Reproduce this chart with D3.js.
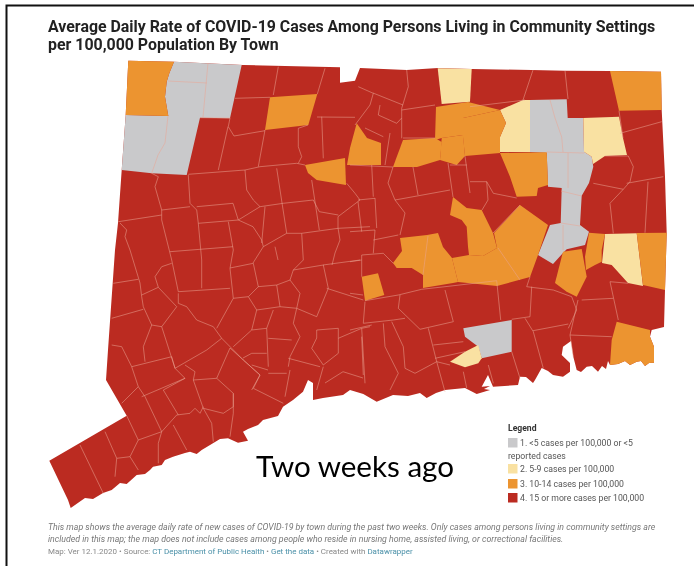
<!DOCTYPE html>
<html>
<head>
<meta charset="utf-8">
<script src="https://cdn.jsdelivr.net/npm/d3@7"></script>
<style>
  html, body { margin: 0; padding: 0; background: #fff; }
  svg { display: block; filter: blur(0.35px); }
  text { font-family: Roboto, sans-serif; }
</style>
</head>
<body>
<div id="map"></div>
<script>
// dim
const width = 694, height = 566;

// text
const titleLines = ["Average Daily Rate of COVID-19 Cases Among Persons Living in Community Settings", "per 100,000 Population By Town"];
const noteLines = [
  "This map shows the average daily rate of new cases of COVID-19 by town during the past two weeks. Only cases among persons living in community settings are",
  "included in this map; the map does not include cases among people who reside in nursing home, assisted living, or correctional facilities."
];
const legendTitle = "Legend";
const legendLabels = [["1. <5 cases per 100,000 or <5", "reported cases"], ["2. 5-9 cases per 100,000"], ["3. 10-14 cases per 100,000"], ["4. 15 or more cases per 100,000"]];
const classColors = ["#c9c9cb", "#f9e1a2", "#ec9430", "#bb2b21"];

// state outline, map units
const stateOutline = [[128.3,60.7],[174,61.7],[243,65],[340,67.3],[340,82.7],[355,80.7],[360,68],[406.7,70],[438,68],[471.7,69],[531.7,70],[565,70.7],[610,71],[661,71.7],[661.7,110],[665,176.7],[666.7,232.7],[665,290],[664,327],[651.7,330],[650,336.7],[654,346.7],[654,362.7],[649,363],[645,366],[641,361],[636.7,361.7],[630,365],[625,361],[618,364],[610,365],[608,361],[606,369],[602,366],[598,371.7],[592,366],[586.7,366.7],[581,372],[576.7,370],[573.3,356.7],[571,341],[563,346.7],[561.7,355],[570,363],[570,371.7],[563,376.7],[553,375],[548,371],[541.7,368],[535,380],[533,383],[526,377],[520,376.7],[518,385],[493,386.7],[488,375],[481.7,386.7],[490,386],[484,389],[490,390],[476.7,394],[465,388],[445,390],[436,393],[426.7,398],[420,393],[408,396],[393,395],[376.7,401.7],[363.3,394],[350,390],[343,395],[323,398],[313,400],[313,383],[308,380],[303,391.7],[293,400],[283,406.7],[278,416],[263,420],[258,425],[248,429],[243,431.7],[248,440.7],[238,442.7],[228,438.3],[220,439],[211.7,444],[201.7,450],[196.7,454],[190,451.7],[185,453],[173,456.7],[165,460],[161.7,465],[153,466.7],[150,470],[145,474],[136.7,475],[126.7,484],[120,483],[111.7,490],[103,493],[93,499],[85,498],[75,505],[70.7,508],[68,500],[49.3,460.7],[126.7,415.7],[106,380],[108,350],[115,250],[118,223],[121.7,170],[125.7,115]];

// towns not in the top class, map units
const class1Towns = [
  [[174,61.7],[241.7,65],[230,118.3],[200,117.7],[186.7,175],[151.7,173.3],[121.7,170],[125.7,115],[168.3,116],[165,96.7],[166.7,81.7],[169.3,73.3]],
  [[530,100],[566.7,99.3],[567.7,118],[583.3,118],[584,151.7],[591.7,156.7],[593.3,166.7],[589,183],[581.7,195.7],[580,225],[589,231.7],[585,245],[566.7,249.3],[563,253],[553,264],[538,255],[550,225],[560.7,223],[561.7,188],[548,186.7],[546.7,152.7],[530,152]],
  [[463.3,328.3],[511.7,320],[511.7,351.7],[481.7,358.3],[478.3,346.7],[465,336.7]]
];
const class2Towns = [
  [[437.7,68.3],[471.7,69],[470,101.7],[441.7,104]],
  [[500,110],[523,100],[530,100],[530,152],[500,152],[500,137],[506,123]],
  [[583.3,118],[619,116.7],[623,138],[627,155],[605,156],[593,164],[591.7,156.7],[584,151.7]],
  [[605,234],[636.7,233.3],[643,286],[628,283],[611.7,265],[602,263]],
  [[450,361.7],[465,351.7],[478.3,345],[481.7,358.3],[478.3,363.3],[465,367.3]]
];
const class3Towns = [
  [[128.3,60.7],[174,61.7],[169.3,73.3],[166.7,81.7],[165,96.7],[168.3,116],[125.7,115]],
  [[270,97.3],[317.3,94],[308.3,125],[265,130]],
  [[356.7,123.3],[367,138],[381,143],[381,165],[347,165],[350,148]],
  [[305,165],[345,158],[346,185],[316.7,180],[308,173]],
  [[393,167],[403,140],[435,138],[441.7,142],[440,160],[417,167]],
  [[436,107],[468,102],[500,110],[463,118],[463,135],[441.7,138],[435,140]],
  [[463,118],[500,110],[506,123],[500,137],[500,153],[465,156],[463,137]],
  [[441.7,138],[463,135],[465,156],[456.7,165],[440,160]],
  [[610,71],[661,71.7],[661.7,110],[619,110.7]],
  [[500,153],[546.7,152.3],[548,185],[538,188],[536.7,196],[516.7,196.7],[510,176.7]],
  [[453,197],[466.7,208],[481.7,210],[493,233],[497,248],[483,256],[469,255],[468,246.7],[466.7,226.7],[461.7,220],[450,215]],
  [[520,205],[548,225],[538,255],[530,277],[497,286],[458,282],[452,258],[469,255],[483,256],[497,248],[494,233]],
  [[393,263],[402,251],[400,238],[427,235],[438,233],[443,247],[452,258],[458,282],[453,283],[423,288],[423,275],[411.7,268],[396.7,268]],
  [[361.7,276.7],[378,273.3],[384.3,295],[365,300.7]],
  [[555,283],[563,251.7],[581.7,249],[586.7,276.7],[576.7,296.7],[566.7,291.7]],
  [[589,232.7],[605,234],[601.7,250],[601.7,261.7],[595,265],[586,270],[585,256.7]],
  [[636.7,233],[666.7,232.7],[665,290],[643,285]],
  [[616.7,321.7],[650,330],[650,336.7],[654,346.7],[654,362.7],[649,363],[645,366],[641,361],[636.7,361.7],[630,365],[625,361],[618,364],[610,365],[611.7,340]]
];

// town lines inside the map, map units
const townLines = [
  [[278.3,66.7],[273.3,95]],[[325,68.3],[317.3,94]],[[235,98.3],[270,97.3]],
  [[230,118],[228.3,126.7],[234,136],[265,130.7]],[[228,126.7],[218.3,170]],[[265,130],[258.3,166.7]],
  [[308,125],[298.3,128.3],[298.3,146.7],[301.7,156.7],[298.3,163.3]],[[317,117],[355,117.3]],[[321.7,116.7],[323.3,158.3]],
  [[188.3,174.3],[245,170],[260,166.7],[296.7,163.3],[305,165]],[[245,170],[246.7,190],[253.3,200],[260,206.7]],
  [[188.3,175],[190,203.3],[196.7,210]],[[151.7,173.3],[158.3,176.7],[155,186.7],[161.7,210],[190,206.7]],
  [[118.3,221.7],[161.7,215]],[[161.7,210],[161.7,220],[171.7,260]],
  [[196.7,206.7],[233,203.3],[238.3,220],[198.3,223.3],[201.7,260]],[[196.7,210],[198.3,223.3]],
  [[238.3,220],[260,206.7],[283.3,203.3],[313.3,200]],[[238.3,220],[253,226.7],[261.7,240],[263.3,246.7]],
  [[228.3,221.7],[233.3,250],[230,268.3]],[[170,251.7],[233,246.7]],[[276.7,168.3],[286.7,233.3]],[[311.7,180],[319.3,230]],
  [[265,206.7],[261.7,243]],[[263.3,246.7],[286.7,233.3],[301.7,233.3],[338.3,228.3],[370,226.7]],
  [[319.3,211.7],[338.3,215]],[[346.7,183.3],[355,193.3],[360,200],[338,216.7],[338,228.3]],[[313.3,200],[319.3,211.7]],
  [[358,200],[375,198.3]],[[301.7,233.3],[303.3,260]],[[338,228],[340,240],[335,253],[332,265]],[[275,246.7],[278,260]],
  [[120,223],[126.7,230],[125,236.7],[130,250]],
  [[130,250],[140,283],[141.7,296.7],[143.3,306.7],[151.7,325],[143.3,346.7],[145,361.7]],
  [[113.3,283.3],[138.3,279.3]],[[111.7,318.3],[143.3,309.3]],
  [[141.7,295],[158.3,287.3],[155,276.7],[161.7,266.7],[171.7,263.3]],[[171.7,260],[178.3,291.7],[230,288.3]],[[201.7,260],[201.7,288.3]],
  [[158.3,287.3],[176.7,306.7],[161.7,326.7],[151.7,325]],
  [[178.3,293.3],[178.3,303.3],[186.7,306.7],[196.7,320],[213.3,326.7],[221.7,338.3],[206.7,350],[175,368.3],[161.7,326.7]],
  [[230,268.3],[233.3,298.3],[216.7,328.3]],[[230,268],[253.3,263.3],[258.3,286.7],[248.3,296.7],[233.3,298.3]],
  [[258,286.7],[276.7,285],[280,306.7],[256.7,310],[248.3,296.7]],[[276.7,285],[290,280],[300,293.3],[296.7,308.3],[280,306.7]],
  [[293.3,270],[323.3,265]],[[290,280],[293.3,270],[303.3,260]],[[253,263],[263.3,246.7]],[[326.7,288.3],[363.3,300]],
  [[323.3,265],[328.3,288.3],[316.7,316.7],[296.7,308.3]],[[256.7,310],[251.7,330],[266.7,328.3],[273.3,310]],[[233.3,346.7],[251.7,330]],
  [[221.7,338.3],[243.3,360],[260,375],[251.7,390]],[[266.7,328.3],[268.3,366.7]],[[243,358],[251.7,353.3],[266.7,353.3]],[[251.7,365],[268,370]],
  [[268.3,338.3],[291.7,340]],[[296.7,308.3],[293.3,323.3],[300,336.7],[290,356.7],[288.3,366.7]],[[288.3,358.3],[320,366.7]],
  [[316.7,330],[338.3,328.3],[338.3,353.3],[323.3,365],[311.7,348.3],[316.7,338],[316.7,330]],[[338.3,338.3],[361.7,328.3],[370,326.7]],
  [[361.7,328.3],[365,383.3]],[[325,383],[343,371.7],[363,378]],[[316.7,390],[323.3,366.7]],[[290,370],[285,396.7]],[[268.3,373.3],[286.7,373.3]],
  [[253.3,388.3],[283.3,403.3]],[[260,375],[253.3,388.3]],[[233.3,393.3],[233.3,413.3],[230,436.7]],
  [[193.3,380],[216.7,378.3],[233.3,393.3],[233.3,406.7],[223.3,413.3],[203.3,408.3],[193.3,380]],[[216.7,378.3],[230,348],[260,375]],
  [[175,368.3],[185,378.3],[163.3,390]],[[185,365],[195,371.7],[193.3,380]],[[131.7,366.7],[171.7,356.7],[175,368.3]],
  [[111.7,345],[121.7,346.7],[131.7,366.7],[138.3,386.7],[121.7,403.3]],[[141.7,396.7],[185,378.3]],
  [[138.3,386.7],[145,396.7],[161.7,431.7],[176.7,415],[190,413.3],[195,408.3],[200,413.3],[203.3,406.7]],[[163.3,390],[178.3,415]],
  [[126.7,415.7],[138.3,440],[130,456.7],[116.7,458.3],[115,476.7]],[[138.3,440],[161.7,431.7]],[[130,456.7],[138.3,470]],
  [[105,431.7],[116.7,458.3]],[[80,445],[103.3,493.3]],[[173.3,425],[186.7,450]],[[161.7,431.7],[158.3,443.3],[158.3,463.3]],
  [[203.3,408.3],[211.7,423.3],[213.3,441.7]],
  [[533,70],[523,100]],[[565,70.7],[568,99]],[[470,106.7],[525,100]],[[620,133.3],[661.7,121.7]],[[626.7,183.3],[663.3,176.7]],
  [[593.3,183.3],[623.3,189.3]],[[605,156],[628.3,156],[633.3,166.7],[630,181.7],[623.3,189.3]],[[623.3,189.3],[610,203.3],[613.3,233.3]],
  [[648,181.7],[645,232.7]],[[619,110.7],[623,138]],
  [[406.7,70],[408.3,86.7],[401.7,108.3]],[[401.7,110],[435,105]],[[401.7,108.3],[401.7,138.3]],[[403,138],[435,138]],
  [[358.3,86.7],[373.3,93.3],[370,105],[355,125]],[[373,93],[403,105]],[[380,105],[378.3,115],[396.7,123.3],[401.7,118]],
  [[365,128],[383.3,136.7]],[[390,133],[385,165]],[[350,165],[393,167]],[[371.7,165],[373.3,196.7]],[[393,167],[388,183],[395,200]],
  [[413,167],[418,195]],[[395,200],[450,190]],[[448,163],[453,197]],[[465,156],[470,193]],[[450,165],[467,165]],
  [[470,181.7],[486.7,181.7],[493.3,193.3],[516.7,198]],[[486.7,181.7],[488,200],[482,210]],[[358,201.7],[361.7,231.7]],[[375,198],[376.7,228]],
  [[373.3,240],[398.3,235]],[[395,200],[405,213],[400,235]],[[350,231.7],[375,230]],[[375,230],[373.3,253.3]],
  [[361.7,255],[383.3,253.3],[393.3,263.3]],[[361.7,255],[361.7,276.7]],[[350,261.7],[361.7,260]],[[350,293.3],[363,295]],[[323,265],[360,260]],
  [[365,300.7],[398.3,295],[421.7,289.3],[445,286.7],[496.7,280.7]],[[400,295],[398.3,308.3],[420,329.3],[453.3,321.7],[445,290]],
  [[365,301.7],[363.3,323.3]],[[363.3,323.3],[393.3,320],[405,318.3]],[[350,330],[371.7,325]],[[361.7,336.7],[363.3,375]],
  [[383.3,323.3],[385,346.7],[398.3,373.3],[390,390]],[[391.7,321.7],[403.3,346.7],[405,368.3],[415,373.3]],
  [[428.3,328.3],[436.7,361.7],[445,391.7]],[[415,373.3],[436.7,361.7],[450,365]],[[433.3,345],[463.3,341.7]],[[465,351.7],[435,358.3]],
  [[463.3,371.7],[466.7,388]],[[488.3,365],[493.3,383.3]],[[511.7,351.7],[520,378.3]],[[500.7,320],[496.7,280.7]],
  [[511.7,319.3],[530,316.7],[531.7,286.7]],[[530,276.7],[526.7,286.7],[553.3,290],[571.7,296.7],[576.7,310],[568.3,328.3]],
  [[525,318.3],[533.3,331.7],[543.3,368.3]],[[533,330.7],[568.3,324]],[[570,335],[611.7,336.7]],[[581.7,300],[613.3,298.3]],
  [[578,300],[570,335],[573.3,356.7]],[[610,281.7],[628.3,283.3]],[[610,281.7],[618.3,320]],
  // lines inside the grey and orange groups
  [[200,117.7],[230,118]],[[208,63],[203,117]],[[168,81],[207,83]],[[168,116],[165,143],[158,155],[151.7,173.3]],
  [[550,100],[555,118],[561.7,137],[563,152]],[[546.7,152],[584,153]],[[568,153],[568,188]],[[561,191],[581.7,196]],[[561,223],[580,226]],[[563,225],[563,250]],
  [[428,236],[423,275]],[[498,248],[520,280]],[[493,233],[520,205]]
];

const svg = d3.select("#map")
  .append("svg")
    .attr("width", width)
    .attr("height", height);

// frame from the screenshot
svg.append("path")
  .attr("d", d3.line()([[6.5, height], [6.5, 5.5], [width, 5.5]]))
  .attr("fill", "none")
  .attr("stroke", "#111")
  .attr("stroke-width", 2);

// title
svg.append("g").selectAll("text")
  .data(titleLines)
  .join("text")
    .attr("x", 48)
    .attr("y", (d, i) => 31.5 + i * 18.8)
    .attr("font-size", 15.9)
    .attr("font-weight", 700)
    .attr("fill", "#222")
    .text(d => d);

// map
const path = d3.geoPath(d3.geoIdentity());
const polygon = ring => ({type: "Polygon", coordinates: [[...ring, ring[0]]]});

const mapG = svg.append("g");

mapG.append("path")
  .datum(polygon(stateOutline))
  .attr("d", path)
  .attr("fill", classColors[3]);

[class1Towns, class2Towns, class3Towns].forEach(function(towns, i) {
  mapG.append("g").selectAll("path")
    .data(towns.map(polygon))
    .join("path")
      .attr("d", path)
      .attr("fill", classColors[i]);
});

mapG.append("path")
  .datum({type: "MultiLineString", coordinates: townLines})
  .attr("d", path)
  .attr("fill", "none")
  .attr("stroke", "#e9a493")
  .attr("stroke-opacity", 0.75)
  .attr("stroke-width", 0.7);

// overlay label
svg.append("text")
  .attr("x", 256)
  .attr("y", 477)
  .attr("font-size", 29.6)
  .style("font-family", "Lato, sans-serif")
  .attr("fill", "#000")
  .text("Two weeks ago");

// legend
const legend = svg.append("g");
legend.append("text")
  .attr("x", 508)
  .attr("y", 431)
  .attr("font-size", 8.6)
  .attr("font-weight", 700)
  .attr("fill", "#333")
  .text(legendTitle);

const rowTop = d3.scaleOrdinal().domain([0, 1, 2, 3]).range([438, 464, 479, 493]);

legend.selectAll("rect")
  .data(legendLabels)
  .join("rect")
    .attr("x", 508)
    .attr("y", (d, i) => rowTop(i))
    .attr("width", 9.5)
    .attr("height", 9.5)
    .attr("fill", (d, i) => classColors[i]);

legendLabels.forEach(function(lines, i) {
  lines.forEach(function(line, j) {
    legend.append("text")
      .attr("x", j === 0 ? 520 : 508)
      .attr("y", rowTop(i) + 8 + j * 12.5)
      .attr("font-size", 8.7)
      .attr("fill", "#555")
      .text(line);
  });
});

// notes
svg.append("g").selectAll("text")
  .data(noteLines)
  .join("text")
    .attr("x", 48)
    .attr("y", (d, i) => 530 + i * 11.5)
    .attr("font-size", 8.77)
    .attr("font-style", "italic")
    .attr("fill", "#777")
    .text(d => d);

const source = svg.append("text")
  .attr("x", 48)
  .attr("y", 554)
  .attr("font-size", 7.97)
  .attr("fill", "#888");
source.append("tspan").text("Map: Ver 12.1.2020 • Source: ");
source.append("tspan").attr("fill", "#4a90a8").text("CT Department of Public Health");
source.append("tspan").text(" • ");
source.append("tspan").attr("fill", "#4a90a8").text("Get the data");
source.append("tspan").text(" • Created with ");
source.append("tspan").attr("fill", "#4a90a8").text("Datawrapper");
</script>
</body>
</html>
